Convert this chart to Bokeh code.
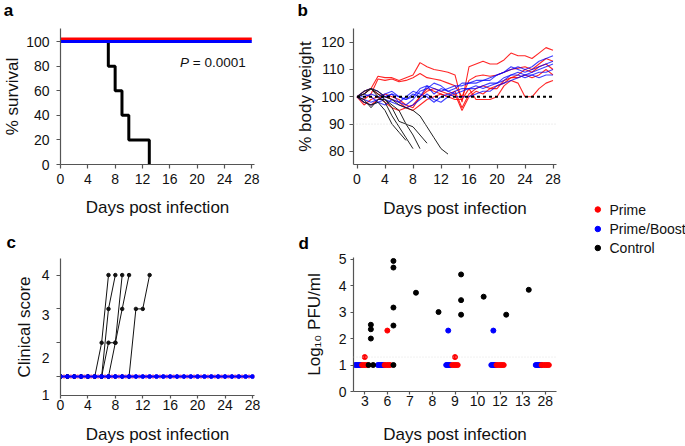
from bokeh.plotting import figure
from bokeh.layouts import row, column
from bokeh.models import (FixedTicker, ColumnDataSource, Span, Label, LinearAxis)
from bokeh.transform import dodge
from bokeh.embed import file_html
from bokeh.resources import INLINE
from bokeh.core.properties import value

FONT = "Liberation Sans"
RED = "#ff0000"
BLUE = "#0000ff"
BLACK = "#000000"
AXC = "#555555"

# ---------------- panel a: survival ----------------
surv_prime_days = [0, 28]
surv_prime = [100, 100]
surv_boost_days = [0, 28]
surv_boost = [100, 100]
surv_ctrl_days = [0, 7, 8, 9, 10, 13]
surv_ctrl = [100, 80, 60, 40, 20, 0]
a_xticks = [0, 4, 8, 12, 16, 20, 24, 28]
a_yticks = [0, 20, 40, 60, 80, 100]
p_value = "= 0.0001"

# ---------------- panel b: body weight ----------------
days29 = [0, 1, 2, 3, 4, 5, 6, 7, 8, 9, 10, 11, 12, 13, 14, 15, 16, 17, 18, 19,
          20, 21, 22, 23, 24, 25, 26, 27, 28]
w_prime = [
    [100, 101, 103, 107.5, 107, 107, 106, 107, 108, 112.5, 111, 110, 109.5, 109, 108, 98, 111, 112, 113, 112, 112, 113.5, 116, 115, 115, 114, 116, 118, 117],
    [100, 99, 101, 106.5, 106, 106.5, 105.5, 106, 107, 108.5, 107, 106.5, 106, 105, 104, 100, 106, 107.5, 108, 107.5, 108, 109, 110, 110.5, 111, 110, 112, 114, 113],
    [100, 98, 97, 99, 101, 100, 99, 97, 96, 100, 102, 103, 102, 101, 102, 96, 101, 103, 104, 103, 103, 106, 107, 108, 110, 109, 111, 112, 110],
    [100, 97, 99, 100, 98, 96, 95, 96, 95, 97, 99, 100, 101, 100, 99, 99, 103, 99, 99, 99, 100, 104, 106, 105, 100, 100, 103, 105, 106],
    [100, 102, 103, 101, 100, 99, 98, 96, 97, 100, 103, 102, 101, 100, 101, 95, 100, 102, 101, 103, 104, 105, 107, 107, 108, 107, 108, 110, 108],
]
w_boost = [
    [100, 102, 103, 102, 100, 101, 100, 99, 100, 103, 104, 103, 102, 103, 104, 104, 105, 106, 106, 107, 108, 109, 110, 111, 110, 111, 113, 114, 115],
    [100, 99, 98, 99, 100, 101, 98, 97, 99, 102, 103, 105, 104, 102, 103, 105, 105, 105, 106, 106, 108, 109, 111, 110, 109, 110, 111, 112, 113],
    [100, 101, 100, 98, 97, 99, 98, 100, 102, 101, 100, 98, 100, 101, 100, 100, 100, 101, 102, 102, 104, 105, 106, 107, 108, 109, 110, 111, 112],
    [100, 98, 97, 98, 99, 98, 97, 96, 97, 99, 101, 99, 98, 100, 102, 103, 103, 104, 103, 104, 105, 107, 108, 108, 107, 108, 109, 109, 110],
    [100, 100, 101, 100, 101, 102, 100, 99, 101, 100, 104, 101, 103, 102, 101, 102, 103, 103, 104, 105, 105, 106, 108, 109, 108, 108, 107, 108, 108],
]
w_ctrl = [
    [100, 98, 97, 98, 95, 90, 87, 84],
    [100, 101, 103, 100, 98, 93, 89, 85, 81],
    [100, 102, 103, 101, 99, 96, 91, 90, 86, 81],
    [100, 99, 96, 99, 99, 97, 95, 90, 89, 86, 83],
    [100, 101, 103, 102, 100, 99, 97, 96, 95, 93, 89, 85, 81, 79],
]
w_ref_days = [0, 28]
w_ref = [100, 100]
w_guide = 90
b_yticks = [80, 90, 100, 110, 120]

# ---------------- panel c: clinical score ----------------
c_prime = [1, 1, 1, 1, 1, 1, 1, 1, 1, 1, 1, 1, 1, 1, 1, 1, 1, 1, 1, 1, 1, 1, 1, 1, 1, 1, 1, 1, 1]
c_boost = [1, 1, 1, 1, 1, 1, 1, 1, 1, 1, 1, 1, 1, 1, 1, 1, 1, 1, 1, 1, 1, 1, 1, 1, 1, 1, 1, 1, 1]
c_ctrl = [
    [1, 1, 1, 1, 1, 1, 2, 4],
    [1, 1, 1, 1, 1, 1, 1, 3, 4],
    [1, 1, 1, 1, 1, 1, 1, 2, 2, 4],
    [1, 1, 1, 1, 1, 1, 1, 1, 2, 3, 4],
    [1, 1, 1, 1, 1, 1, 1, 1, 1, 1, 1, 3, 3, 4],
]
c_yticks = [4, 3, 2, 1]
c_ylabels = ["4", "3", "2", "1"]
c_ylabel_pos = [4, 2.82, 1.56, 0.45]   # where the original figure prints its labels

# ---------------- panel d: viral titre ----------------
d_days = ["3", "6", "7", "8", "9", "10", "12", "13", "28"]
prime_day = ["3", "3", "3", "3", "3", "6", "6", "6", "6", "6", "9", "9", "9", "9", "9",
             "12", "12", "12", "12", "12", "28", "28", "28", "28", "28"]
prime_log = [1.3, 1, 1, 1, 1, 2.3, 1, 1, 1, 1, 1.3, 1, 1, 1, 1,
             1, 1, 1, 1, 1, 1, 1, 1, 1, 1]
boost_day = ["3", "3", "3", "3", "3", "6", "6", "6", "6", "6", "9", "9", "9", "9", "9",
             "12", "12", "12", "12", "12", "28", "28", "28", "28", "28"]
boost_log = [1, 1, 1, 1, 1, 1, 1, 1, 1, 1, 2.3, 1, 1, 1, 1,
             2.3, 1, 1, 1, 1, 1, 1, 1, 1, 1]
ctrl_day = ["3", "3", "3", "3", "3", "6", "6", "6", "6", "6", "7", "8", "9", "9", "9",
            "10", "12", "13"]
ctrl_log = [2.35, 2.0, 2.52, 1, 1, 4.93, 4.68, 3.17, 2.49, 1, 3.73, 3.0, 4.42, 3.45, 2.9,
            3.58, 2.9, 3.84]
d_lod = 1.3
d_yticks = [0, 1, 2, 3, 4, 5]

groups = ["Prime", "Prime/Boost", "Control"]
group_colors = [RED, BLUE, BLACK]
panel_letters = ["a", "b", "c", "d"]


def style_axis(ax, tick_out=4):
    ax.axis_line_color = AXC
    ax.axis_line_width = 1.2
    ax.major_tick_line_color = AXC
    ax.major_tick_line_width = 1.2
    ax.minor_tick_line_color = None
    ax.major_tick_out = tick_out
    ax.major_tick_in = 0
    ax.major_label_text_font = FONT
    ax.major_label_text_font_size = "14px"
    ax.major_label_text_color = "#111111"
    ax.axis_label_text_font = FONT
    ax.axis_label_text_font_size = "17px"
    ax.axis_label_text_font_style = "normal"
    ax.axis_label_text_color = "#111111"


def style(p, tick_out=4):
    p.xgrid.visible = False
    p.ygrid.visible = False
    p.outline_line_color = None
    p.background_fill_color = "white"
    p.border_fill_color = "white"
    for ax in p.axis:
        style_axis(ax, tick_out)


def strip(w, h, txt, x, y):
    """A thin header figure carrying a panel letter (pixel coordinates from top-left)."""
    s = figure(width=w, height=h, x_range=(0, w), y_range=(h, 0),
               x_axis_type=None, y_axis_type=None, output_backend="svg",
               toolbar_location=None, min_border=0, frame_align=False)
    s.xgrid.visible = False
    s.ygrid.visible = False
    s.outline_line_color = None
    s.text(x=[x], y=[y], text=[txt], text_font=value(FONT), text_font_size="17px",
           text_font_style="bold", text_baseline="middle", text_color="#000000")
    return s


def letter(p, txt, offset, standoff):
    p.title.text = txt
    p.title.text_font = FONT
    p.title.text_font_size = "17px"
    p.title.text_font_style = "bold"
    p.title.text_color = "#000000"
    p.title.align = "left"
    p.title.offset = offset
    p.title.standoff = standoff


# ---- a ----
pa = figure(width=280, height=196, x_range=(0, 28.4), y_range=(0, 110.6),
            output_backend="svg", toolbar_location=None,
            min_border_left=58, min_border_right=25, min_border_top=4, min_border_bottom=56)
style(pa)
pa.xaxis.ticker = FixedTicker(ticks=a_xticks)
pa.yaxis.ticker = FixedTicker(ticks=a_yticks)
pa.xaxis.axis_label = "Days post infection"
pa.yaxis.axis_label = "% survival"
pa.xaxis.major_label_standoff = 5
pa.xaxis.axis_label_standoff = 11
pa.yaxis.major_label_standoff = 7
pa.yaxis.axis_label_standoff = 1
pa.step(surv_ctrl_days, surv_ctrl, mode="after", line_color=BLACK, line_width=3)
sa_b = ColumnDataSource(dict(x=surv_boost_days, y=surv_boost))
sa_p = ColumnDataSource(dict(x=surv_prime_days, y=surv_prime))
pa.line("x", dodge("y", 2, range=pa.y_range), source=sa_p, line_color=RED, line_width=3)
pa.line("x", "y", source=sa_b, line_color=BLUE, line_width=3)
pa.add_layout(Label(x=17.5, y=83, text="P", text_font=FONT, text_font_size="13.5px",
                    text_font_style="italic", text_baseline="middle", text_color="#111111"))
pa.add_layout(Label(x=17.5, y=83, x_offset=12.8, text=p_value, text_font=FONT,
                    text_font_size="13.5px", text_baseline="middle", text_color="#111111"))

# ---- b ----
pb = figure(width=290, height=196, x_range=(-0.5, 28.5), y_range=(75.2, 125),
            output_backend="svg", toolbar_location=None,
            min_border_left=73, min_border_right=11, min_border_top=4, min_border_bottom=56)
style(pb)
pb.xaxis.ticker = FixedTicker(ticks=a_xticks)
pb.yaxis.ticker = FixedTicker(ticks=b_yticks)
pb.xaxis.axis_label = "Days post infection"
pb.yaxis.axis_label = "% body weight"
pb.xaxis.major_label_standoff = 5
pb.xaxis.axis_label_standoff = 12
pb.yaxis.major_label_standoff = 5
pb.yaxis.axis_label_standoff = 3
pb.add_layout(Span(location=w_guide, dimension="width", line_color="#dddddd",
                   line_width=1, line_dash="1 2"))
for w in w_prime:
    pb.line(days29[:len(w)], w, line_color=RED, line_width=1.1, line_alpha=0.85)
for w in w_boost:
    pb.line(days29[:len(w)], w, line_color=BLUE, line_width=1.1, line_alpha=0.75)
for w in w_ctrl:
    pb.line(days29[:len(w)], w, line_color="#222222", line_width=1)
pb.line(w_ref_days, w_ref, line_color=BLACK, line_width=1.8, line_dash="3 3")

# ---- c ----
pc = figure(width=280, height=226, x_range=(0, 28.3), y_range=(0.44, 4.49),
            output_backend="svg", toolbar_location=None,
            min_border_left=57, min_border_right=26, min_border_top=38, min_border_bottom=50)
style(pc, tick_out=3)
letter(pc, panel_letters[2], -54, 12.3)
pc.xaxis.ticker = FixedTicker(ticks=a_xticks)
pc.yaxis.ticker = FixedTicker(ticks=c_yticks)
pc.yaxis.major_tick_out = 4
pc.yaxis.major_label_text_color = None
pc.yaxis.major_label_text_font_size = "2px"
pc.yaxis.major_label_standoff = 0
pc.xaxis.major_label_standoff = 1
pc.xaxis.axis_label_standoff = 12
pc.xaxis.axis_label = "Days post infection"
c_lab_axis = LinearAxis(ticker=FixedTicker(ticks=c_ylabel_pos),
                        major_label_overrides={pos: lab for pos, lab in zip(c_ylabel_pos, c_ylabels)},
                        axis_label="Clinical score")
style_axis(c_lab_axis)
c_lab_axis.axis_line_color = None
c_lab_axis.major_tick_line_color = None
c_lab_axis.major_tick_out = 0
c_lab_axis.major_label_standoff = 7
c_lab_axis.axis_label_standoff = 5
pc.add_layout(c_lab_axis, "left")
for s in c_ctrl:
    pc.line(days29[:len(s)], s, line_color="#111111", line_width=1)
    pc.scatter(days29[:len(s)], s, size=3.5, color="#111111")
sc_p = ColumnDataSource(dict(x=days29, y=c_prime))
pc.scatter(dodge("x", 0.5, range=pc.x_range), "y", source=sc_p, size=3.5, color="#ff7f9f")
pc.line(days29, c_boost, line_color=BLUE, line_width=2)
pc.scatter(days29, c_boost, size=4, color=BLUE)

# ---- d ----
pd_ = figure(width=290, height=226, x_range=(-0.5, 8.5), y_range=(0, 5.06),
             output_backend="svg", toolbar_location=None,
             min_border_left=73, min_border_right=14, min_border_top=37, min_border_bottom=51)
style(pd_, tick_out=3)
letter(pd_, panel_letters[3], -55, 9.7)
pd_.xaxis.ticker = FixedTicker(ticks=list(range(len(d_days))))
pd_.xaxis.major_label_overrides = {i: d for i, d in enumerate(d_days)}
pd_.yaxis.ticker = FixedTicker(ticks=d_yticks)
pd_.xaxis.major_label_standoff = 1
pd_.xaxis.axis_label_standoff = 16
pd_.yaxis.major_label_standoff = 4
pd_.yaxis.axis_label_standoff = 12
pd_.xaxis.axis_label = "Days post infection"
pd_.yaxis.axis_label = "Log\u2081\u2080 PFU/ml"
pd_.add_layout(Span(location=d_lod, dimension="width", line_color="#e2e2e2",
                    line_width=1, line_dash="1 2"))


def spread(days, vals, base, step):
    counts = {}
    for d, v in zip(days, vals):
        counts[(d, v)] = counts.get((d, v), 0) + 1
    seen = {}
    xs = []
    for d, v in zip(days, vals):
        n = counts[(d, v)]
        k = seen.get((d, v), 0)
        seen[(d, v)] = k + 1
        xs.append(d_days.index(d) + base + (k - (n - 1) / 2) * step)
    return xs


pd_.scatter(spread(boost_day, boost_log, -0.3, 0.06), boost_log, size=5, color=BLUE)
pd_.scatter(spread(prime_day, prime_log, 0.0, 0.08), prime_log, size=5, color=RED)
pd_.scatter(spread(ctrl_day, ctrl_log, 0.27, 0.2), ctrl_log, size=5, color=BLACK)

# ---- panel letter strips (top row) ----
sa = strip(280, 24, panel_letters[0], 3.3, 10)
sb = strip(290, 24, panel_letters[1], 17, 9.5)

# ---- legend (own figure, coordinates in pixels from its top-left) ----
LEG_W, LEG_H = 115, 446
leg_dot_x = 27.3
leg_text_x = 39
leg_rows_y = [209, 228.5, 247.5]
pl = figure(width=LEG_W, height=LEG_H, x_range=(0, LEG_W), y_range=(LEG_H, 0),
            x_axis_type=None, y_axis_type=None, output_backend="svg",
            toolbar_location=None, min_border=0, frame_align=False)
pl.xgrid.visible = False
pl.ygrid.visible = False
pl.outline_line_color = None
leg_src = ColumnDataSource(dict(x=[leg_dot_x] * 3, tx=[leg_text_x] * 3, y=leg_rows_y,
                                label=groups, color=group_colors))
pl.scatter("x", "y", source=leg_src, size=5.5, color="color")
pl.text("tx", "y", text="label", source=leg_src, text_font=value(FONT),
        text_font_size="14px", text_baseline="middle", text_color="#111111")

layout = row(column(sa, pa, pc), column(sb, pb, pd_), pl)
open("out.html", "w").write(file_html(layout, INLINE))
